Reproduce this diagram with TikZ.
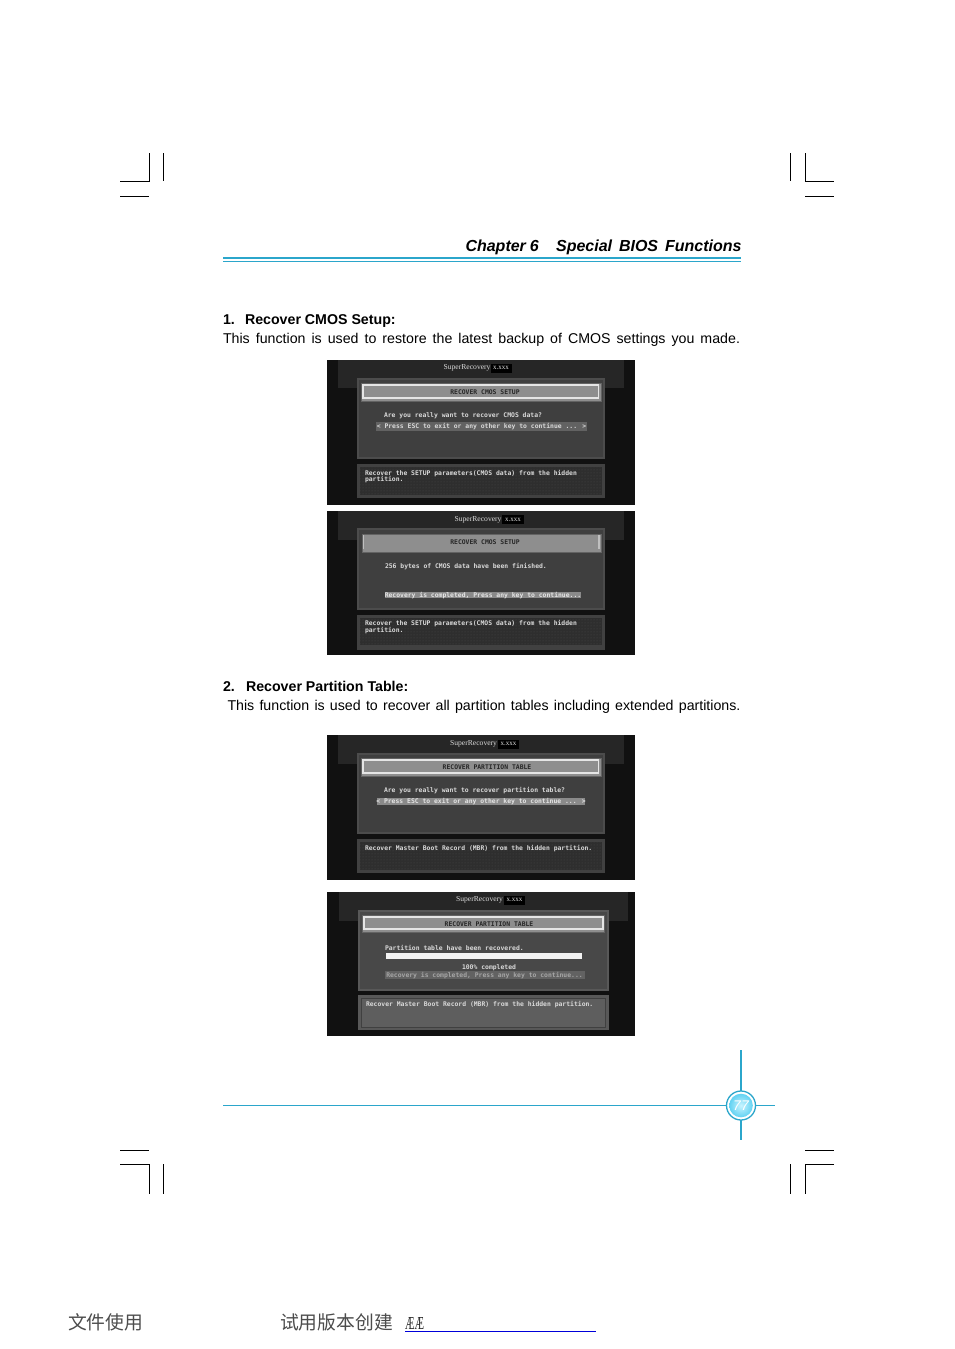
\documentclass[tikz,border=0pt]{standalone}
\usepackage{fontspec}
\usetikzlibrary{patterns}
\setmainfont{Liberation Sans}
\newfontfamily\cjkfont{Noto Sans CJK SC}
\newfontfamily\biosfont{DejaVu Sans Mono}
\newfontfamily\seriffont{Liberation Serif}
\definecolor{cyanline}{HTML}{2BA6CB}
\definecolor{scrbg}{HTML}{111111}
\definecolor{scrband}{HTML}{262626}
\definecolor{scrmain}{HTML}{3F3F3F}
\definecolor{scrborder}{HTML}{4C4C4C}
\definecolor{scrbar}{HTML}{8E8E8E}
\definecolor{scrlow}{HTML}{2E2E2E}
\definecolor{scrhi}{HTML}{626262}
\definecolor{scrhib}{HTML}{8A8A8A}
\definecolor{scrgrain}{HTML}{4A4A4A}
\definecolor{fourmain}{HTML}{484848}
\definecolor{fourborder}{HTML}{585858}
\definecolor{fourlow}{HTML}{5E5E5E}
\definecolor{ballin}{HTML}{C8F4FF}
\definecolor{ballout}{HTML}{62D2F2}
\tikzset{
  every node/.style={inner sep=0pt,outer sep=0pt},
  crop/.style={black,line width=0.9pt},
  bodytext/.style={anchor=base west,font=\fontsize{14.2}{16}\selectfont,text=black},
  headtext/.style={anchor=base west,font=\fontsize{14.2}{16}\selectfont\bfseries,text=black},
  bg/.style={fill=scrbg,draw=none},
  band/.style={fill=scrband,draw=none},
  mainpanel/.style={fill=scrmain,draw=scrborder,line width=2pt},
  lowpanel/.style={fill=scrborder!85!black,draw=none},
  lowinner/.style={fill=scrlow,draw=none},
  grain/.style={pattern=dots,pattern color=scrgrain,draw=none},
  barbox/.style={fill=scrbar,draw=scrbar!70!black,line width=1pt},
  barline/.style={draw=white!90!black,line width=1.2pt},
  scrtitle/.style={anchor=east,font=\seriffont\fontsize{7.6}{9}\selectfont,text=white!85!black},
  scrver/.style={fill=black,anchor=center,minimum height=9pt,font=\seriffont\fontsize{7}{8}\selectfont,text=white!90!black},
  bios/.style={font=\biosfont\bfseries\fontsize{6.4}{7}\selectfont,text=white!85!black},
  biosleft/.style={bios,anchor=west},
  bioscen/.style={bios,anchor=center},
  biosdark/.style={bios,text=black!85,anchor=center},
  hilite/.style={fill=scrhi,draw=none},
  hilitelight/.style={fill=scrhib,draw=none},
}
\begin{document}
\begin{tikzpicture}[x=1pt,y=-1pt]
\useasboundingbox[fill=white] (0,0) rectangle (954,1349);

% crop marks
\draw[crop] (120,181) -- (149,181) -- (149,153);
\draw[crop] (163,153) -- (163,181);
\draw[crop] (120,196) -- (149,196);
\draw[crop] (790,153) -- (790,181);
\draw[crop] (805,153) -- (805,181) -- (834,181);
\draw[crop] (805,196) -- (834,196);
\draw[crop] (120,1150) -- (149,1150);
\draw[crop] (120,1164) -- (149,1164) -- (149,1194);
\draw[crop] (163,1164) -- (163,1194);
\draw[crop] (805,1150) -- (834,1150);
\draw[crop] (834,1164) -- (805,1164) -- (805,1194);
\draw[crop] (790,1164) -- (790,1194);

% header
\node[anchor=base east,font=\fontsize{16}{18}\selectfont\bfseries\itshape] (chap) at (741.5,251)
  {\makebox[276pt][s]{Chapter\hspace{0.25em}6\hspace{1em}\hfill Special\hspace{0.35em}\hfill BIOS\hspace{0.35em}\hfill Functions}};
\draw[cyanline,line width=2pt] (223,258) -- (741,258);
\draw[cyanline,line width=1pt] (223,261.5) -- (741,261.5);

% section 1
\node[headtext] (n1) at (223,324) {1.};
\node[headtext] (h1) at (245,324) {Recover CMOS Setup:};
\node[bodytext] (b1) at (223,343) {\makebox[517pt][s]{This function is used to restore the latest backup of CMOS settings you made.}};

% screen 1
\fill[bg] (327,360) rectangle (635,505);
\fill[band] (338,360) rectangle (624,388);
\draw[mainpanel] (358,378.5) rectangle (604,458);
\draw[barbox] (361,383) rectangle (601,401);
\draw[barline] (363,385) rectangle (598.5,398);
\fill[lowpanel] (357,464) rectangle (604.5,498);
\fill[lowinner] (360,467) rectangle (602,495);
\fill[grain] (360,467) rectangle (602,495);
\node[scrtitle] (s1t) at (490.5,368) {SuperRecovery};
\node[scrver,minimum width=21pt] (s1v) at (501,368) {x.xxx};
\node[biosdark] (s1b) at (485,392.5) {RECOVER CMOS SETUP};
\node[biosleft] (s1q) at (384,415.5) {Are you really want to recover CMOS data?};
\fill[hilite] (376,422) rectangle (587,431);
\node[bioscen] (s1p) at (481.5,427) {< Press ESC to exit or any other key to continue ... >};
\node[biosleft] (s1d) at (365,473.5) {Recover the SETUP parameters(CMOS data) from the hidden};
\node[biosleft] (s1e) at (365,479.5) {partition.};

% screen 2
\fill[bg] (327,511) rectangle (635,655);
\fill[band] (338,511) rectangle (624,540);
\draw[mainpanel] (358,529) rectangle (604,609);
\draw[barbox] (362,534) rectangle (601,552);
\draw[draw=white!75!black,line width=1.2pt] (363.5,535) -- (363.5,549) (599,535) -- (599,549);
\fill[lowpanel] (357,615) rectangle (604.5,650);
\fill[lowinner] (360,618) rectangle (602,645);
\fill[grain] (360,618) rectangle (602,645);
\node[scrtitle] (s2t) at (501.5,519.5) {SuperRecovery};
\node[scrver,minimum width=22pt] (s2v) at (513,519.5) {x.xxx};
\node[biosdark] (s2b) at (485,542.5) {RECOVER CMOS SETUP};
\node[biosleft] (s2q) at (385,566.5) {256 bytes of CMOS data have been finished.};
\fill[hilitelight] (385,591.5) rectangle (581,598);
\node[bioscen,text=white!90!black] (s2p) at (483,595.5) {Recovery is completed, Press any key to continue...};
\node[biosleft] (s2d) at (365,623.5) {Recover the SETUP parameters(CMOS data) from the hidden};
\node[biosleft] (s2e) at (365,630.5) {partition.};

% section 2
\node[headtext] (n2) at (223,691) {2.};
\node[headtext] (h2) at (246,691) {Recover Partition Table:};
\node[bodytext] (b2) at (227.5,710) {\makebox[513pt][s]{This function is used to recover all partition tables including extended partitions.}};

% screen 3
\fill[bg] (327,735) rectangle (635,880);
\fill[band] (338,735) rectangle (624,764);
\draw[mainpanel] (358,753.5) rectangle (604,833);
\draw[barbox] (361,758) rectangle (601,776);
\draw[barline] (363,760) rectangle (598.5,773);
\fill[lowpanel] (357,839) rectangle (604.5,873);
\fill[lowinner] (360,842) rectangle (602,870);
\fill[grain] (360,842) rectangle (602,870);
\node[scrtitle] (s3t) at (497,744) {SuperRecovery};
\node[scrver,minimum width=21pt] (s3v) at (508.5,744) {x.xxx};
\node[biosdark] (s3b) at (487,767.5) {RECOVER PARTITION TABLE};
\node[biosleft] (s3q) at (384,790.5) {Are you really want to recover partition table?};
\fill[hilitelight] (377,798) rectangle (585,804.5);
\node[bioscen,text=white!90!black] (s3p) at (481,801.5) {< Press ESC to exit or any other key to continue ... >};
\node[biosleft] (s3d) at (365,848.5) {Recover Master Boot Record (MBR) from the hidden partition.};

% screen 4
\fill[bg] (327,892) rectangle (635,1036);
\fill[band] (339,892) rectangle (628,921);
\draw[mainpanel,fill=fourmain,draw=fourborder] (359,910.5) rectangle (608,990);
\draw[barbox] (362,915) rectangle (604,932);
\draw[barline] (364,917) rectangle (603,929);
\fill[fourborder] (358,995) rectangle (608.5,1030);
\fill[black!75] (360.5,997.5) rectangle (606,1028);
\fill[fourlow] (362,998.5) rectangle (605,1027);
\node[scrtitle] (s4t) at (503,900) {SuperRecovery};
\node[scrver,minimum width=21pt] (s4v) at (514.5,900) {x.xxx};
\node[biosdark] (s4b) at (489,924.5) {RECOVER PARTITION TABLE};
\node[biosleft] (s4q) at (385,947.5) {Partition table have been recovered.};
\fill[white!95!black] (385.5,953) rectangle (581.5,959);
\node[bioscen] (s4c) at (489,967.5) {100\% completed};
\fill[scrhi] (385,971) rectangle (585,979);
\node[bioscen,text=white!65!black] (s4p) at (484.5,975.5) {Recovery is completed, Press any key to continue...};
\node[biosleft] (s4d) at (366,1004.5) {Recover Master Boot Record (MBR) from the hidden partition.};

% footer ornament
\draw[cyanline,line width=1.4pt] (223,1105.5) -- (775,1105.5);
\draw[cyanline,line width=1.4pt] (741,1050) -- (741,1140);
\fill[white] (741,1105.5) circle (14.5);
\shade[inner color=ballin,outer color=ballout,draw=none] (741,1105.5) circle (11.8);
\draw[cyanline,line width=1.3pt] (741,1105.5) circle (14.5);
\node[font=\fontsize{14}{15}\selectfont\itshape,text=white] (pg) at (741,1105.5) {77};

% watermark line
\node[anchor=base west,font=\cjkfont\fontsize{18.8}{20}\selectfont,text=black!70] (wm1) at (68,1329) {文件使用};
\node[anchor=base west,font=\cjkfont\fontsize{18.8}{20}\selectfont,text=black!70] (wm2) at (280,1329) {试用版本创建};
\node[anchor=base west,font=\seriffont\fontsize{14}{15}\selectfont,text=black!85] (wm3) at (405,1329) {\resizebox{19pt}{12pt}{ÆÆ}};
\draw[blue!85!black,line width=0.9pt] (405,1331.5) -- (596,1331.5);
\end{tikzpicture}
\end{document}
